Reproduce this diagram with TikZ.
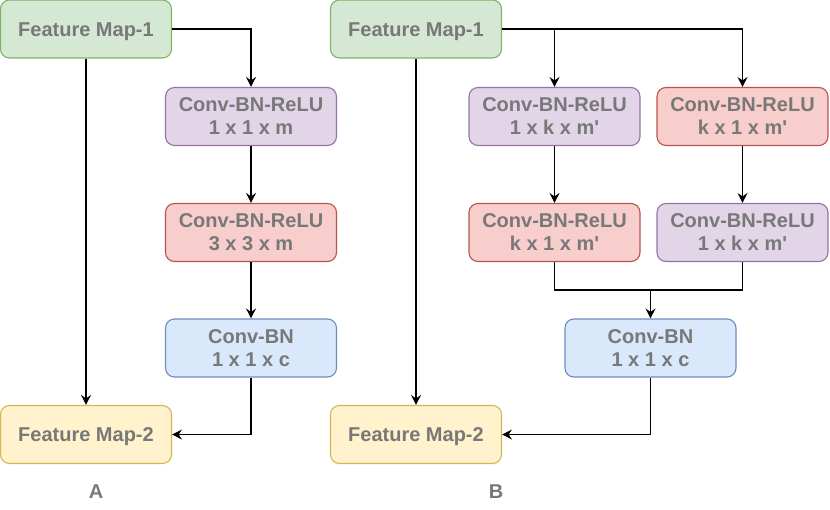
\documentclass[tikz,border=0pt]{standalone}
\usepackage{fontspec}
\setmainfont{Liberation Sans}[Ligatures=TeXOff]
\usetikzlibrary{arrows.meta}
\definecolor{gfill}{HTML}{D5E8D4}\definecolor{gline}{HTML}{82B366}
\definecolor{pfill}{HTML}{E1D5E7}\definecolor{pline}{HTML}{9673A6}
\definecolor{rfill}{HTML}{F8CECC}\definecolor{rline}{HTML}{B85450}
\definecolor{bfill}{HTML}{DAE8FC}\definecolor{bline}{HTML}{6C8EBF}
\definecolor{yfill}{HTML}{FFF2CC}\definecolor{yline}{HTML}{D6B656}
\definecolor{txt}{HTML}{787878}
\begin{document}
\begin{tikzpicture}[x=1pt,y=-1pt,
  box/.style={rounded corners=9pt,line width=1.1pt,minimum width=171pt,minimum height=58pt,
    align=center,text=txt,font=\fontsize{20}{23}\selectfont\bfseries,inner sep=0pt},
  gbox/.style={box,fill=gfill,draw=gline},
  pbox/.style={box,fill=pfill,draw=pline},
  rbox/.style={box,fill=rfill,draw=rline},
  bbox/.style={box,fill=bfill,draw=bline},
  ybox/.style={box,fill=yfill,draw=yline},
  one/.style={text height=14pt,text depth=0pt},
  conn/.style={line width=1.3pt,black},
  arr/.style={conn,-{Stealth[length=10pt,width=10pt,inset=3.5pt]}},
  lab/.style={text=txt,font=\fontsize{20}{23}\selectfont\bfseries}]
\useasboundingbox (0,0) rectangle (830,509);
% A
\node[gbox,one] (a1) at (86,29) {Feature Map-1};
\node[pbox] (a2) at (251,116.5) {Conv-BN-ReLU\\1 x 1 x m};
\node[rbox] (a3) at (251,232.5) {Conv-BN-ReLU\\3 x 3 x m};
\node[bbox] (a4) at (251,348) {Conv-BN\\1 x 1 x c};
\node[ybox,one] (a5) at (86,434.5) {Feature Map-2};
\node[lab] (la) at (96,492) {A};
\draw[arr] (a1.east) -| (a2.north);
\draw[arr] (a2) -- (a3);
\draw[arr] (a3) -- (a4);
\draw[arr] (a1) -- (a5);
\draw[arr] (a4.south) |- (a5.east);
% B
\node[gbox,one] (b1) at (416,29) {Feature Map-1};
\node[pbox] (b2) at (554.5,116.5) {Conv-BN-ReLU\\1 x k x m'};
\node[rbox] (b3) at (742.5,116.5) {Conv-BN-ReLU\\k x 1 x m'};
\node[rbox] (b4) at (554.5,232.5) {Conv-BN-ReLU\\k x 1 x m'};
\node[pbox] (b5) at (742.5,232.5) {Conv-BN-ReLU\\1 x k x m'};
\node[bbox] (b6) at (650.5,348) {Conv-BN\\1 x 1 x c};
\node[ybox,one] (b7) at (416,434.5) {Feature Map-2};
\node[lab] (lb) at (496,492) {B};
\coordinate (j1) at (554.5,29);
\coordinate (j2) at (650.5,290);
\draw[arr] (b1.east) -| (b3.north);
\draw[arr] (j1) -- (b2.north);
\draw[arr] (b2) -- (b4);
\draw[arr] (b3) -- (b5);
\draw[conn] (b4.south) |- (b5.south |- j2) -- (b5.south);
\draw[arr] (j2) -- (b6.north);
\draw[arr] (b1) -- (b7);
\draw[arr] (b6.south) |- (b7.east);
\end{tikzpicture}
\end{document}
